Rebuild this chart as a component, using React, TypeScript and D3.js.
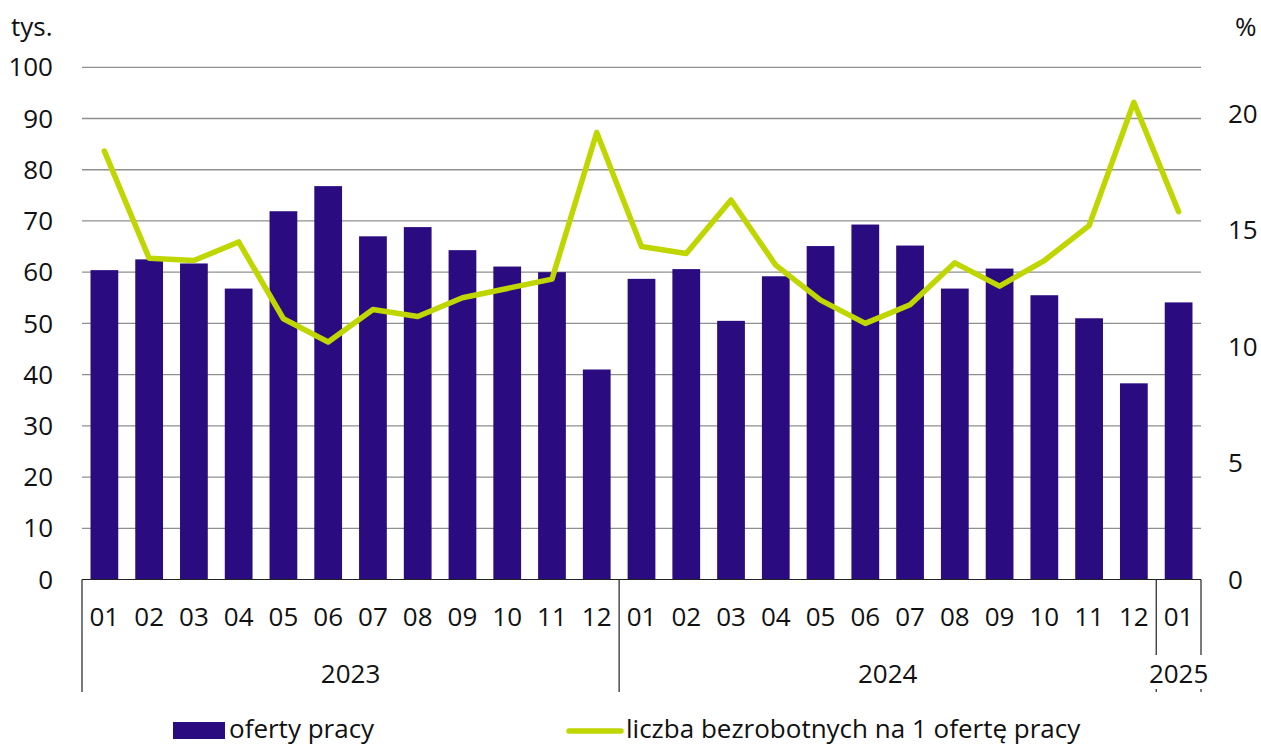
import React from "react";
import * as d3 from "d3";

const months = [
  "01", "02", "03", "04", "05", "06", "07", "08", "09", "10", "11", "12",
  "01", "02", "03", "04", "05", "06", "07", "08", "09", "10", "11", "12",
  "01",
];
const years = [
  { label: "2023", from: 0, to: 11 },
  { label: "2024", from: 12, to: 23 },
  { label: "2025", from: 24, to: 24 },
];
// oferty pracy (tys.)
const offers = [
  60.4, 62.5, 61.7, 56.8, 71.9, 76.8, 67.0, 68.8, 64.3, 61.1, 60.0, 41.0,
  58.7, 60.6, 50.5, 59.2, 65.1, 69.3, 65.2, 56.8, 60.7, 55.5, 51.0, 38.3,
  54.1,
];
// liczba bezrobotnych na 1 ofertę pracy
const ratio = [
  18.4, 13.8, 13.7, 14.5, 11.2, 10.2, 11.6, 11.3, 12.1, 12.5, 12.9, 19.2,
  14.3, 14.0, 16.3, 13.5, 12.0, 11.0, 11.8, 13.6, 12.6, 13.7, 15.2, 20.5,
  15.8,
];
const leftTicks = [0, 10, 20, 30, 40, 50, 60, 70, 80, 90, 100];
const rightTicks = [0, 5, 10, 15, 20];

const BAR = "#2a0b80";
const LINE = "#bfd600";
const FONT = "'Open Sans', sans-serif";
const FS = 26;

export default function App() {
  const W = 1261;
  const H = 744;
  const left = 82;
  const right = 1201;
  const bottom = 579.5;
  const top = 67.3;

  const x = d3
    .scaleBand<number>()
    .domain(d3.range(months.length))
    .range([left, right])
    .paddingInner(0.38)
    .paddingOuter(0.19);
  const step = x.step();
  const yL = d3.scaleLinear().domain([0, 100]).range([bottom, top]);
  const yR = d3.scaleLinear().domain([0, 22]).range([bottom, top]);

  const line = d3
    .line<number>()
    .x((_, i) => (x(i) ?? 0) + x.bandwidth() / 2)
    .y((d) => yR(d));

  // group boundaries
  const edges = [left, ...years.map((g) => left + (g.to + 1) * step)];

  return (
    <div style={{ position: "absolute", left: 0, top: 0 }}>
      <svg width={W} height={H} style={{ display: "block" }} fontFamily={FONT}>
        <rect width={W} height={H} fill="#fff" />

        {/* gridlines */}
        {leftTicks.slice(1).map((t) => (
          <line
            key={t}
            x1={left}
            x2={right}
            y1={yL(t)}
            y2={yL(t)}
            stroke="#8f8f8f"
            strokeWidth={1.3}
          />
        ))}

        {/* bars */}
        {offers.map((v, i) => (
          <rect
            key={i}
            x={x(i)}
            y={yL(v)}
            width={x.bandwidth()}
            height={bottom - yL(v)}
            fill={BAR}
          />
        ))}

        {/* baseline */}
        <line x1={left} x2={right} y1={bottom} y2={bottom} stroke="#222" strokeWidth={1.2} />

        {/* category separators */}
        {edges.map((ex, i) => {
          const narrow = i >= years.length - 1;
          return narrow ? (
            <g key={i}>
              <line x1={ex} x2={ex} y1={bottom} y2={655} stroke="#222" strokeWidth={1.2} />
              <line x1={ex} x2={ex} y1={689} y2={692} stroke="#222" strokeWidth={1.2} />
            </g>
          ) : (
            <line key={i} x1={ex} x2={ex} y1={bottom} y2={692} stroke="#222" strokeWidth={1.2} />
          );
        })}

        {/* line series */}
        <path
          d={line(ratio) ?? ""}
          fill="none"
          stroke={LINE}
          strokeWidth={5.5}
          strokeLinejoin="round"
          strokeLinecap="round"
        />

        {/* left axis */}
        {leftTicks.map((t) => (
          <text
            key={t}
            x={53}
            y={yL(t)}
            dy="0.35em"
            textAnchor="end"
            fontSize={FS}
            fill="#111"
          >
            {t}
          </text>
        ))}
        <text x={11} y={36} fontSize={FS} fill="#111">
          tys.
        </text>

        {/* right axis */}
        {rightTicks.map((t) => (
          <text key={t} x={1228} y={yR(t)} dy="0.35em" fontSize={FS} fill="#111">
            {t}
          </text>
        ))}
        <text x={1235} y={36} fontSize={FS} fill="#111">
          %
        </text>

        {/* month labels */}
        {months.map((m, i) => (
          <text
            key={i}
            x={(x(i) ?? 0) + x.bandwidth() / 2}
            y={626}
            textAnchor="middle"
            fontSize={FS}
            fill="#111"
          >
            {m}
          </text>
        ))}

        {/* year labels */}
        {years.map((g) => (
          <text
            key={g.label}
            x={left + ((g.from + g.to + 1) / 2) * step}
            y={683}
            textAnchor="middle"
            fontSize={FS}
            fill="#111"
          >
            {g.label}
          </text>
        ))}

        {/* legend */}
        <rect x={173} y={722} width={52} height={17} fill={BAR} />
        <text x={229} y={738} fontSize={FS} fill="#111">
          oferty pracy
        </text>
        <line x1={569} x2={621} y1={731} y2={731} stroke={LINE} strokeWidth={5.5} strokeLinecap="round" />
        <text x={626} y={738} fontSize={FS} fill="#111">
          liczba bezrobotnych na 1 ofertę pracy
        </text>
      </svg>
    </div>
  );
}
